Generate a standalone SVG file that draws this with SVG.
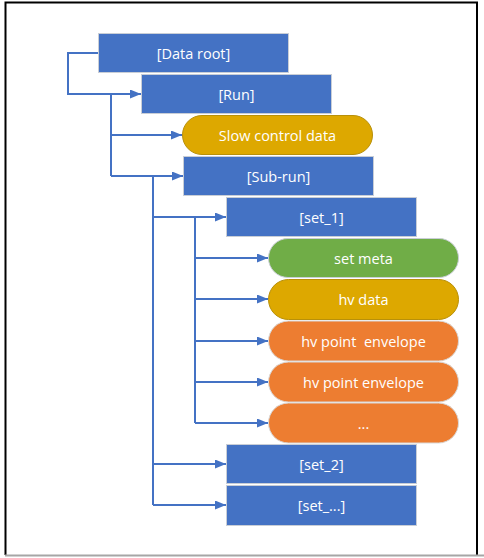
<svg xmlns="http://www.w3.org/2000/svg" width="484" height="558" viewBox="0 0 484 558">
  <defs>
    <marker id="arrow" markerWidth="11" markerHeight="9" refX="11" refY="4.5" orient="auto" markerUnits="userSpaceOnUse">
      <path d="M0,0 L11,4.5 L0,9 Z" fill="#4472C4"/>
    </marker>
    <style>
      .box { fill: #4472C4; stroke: #C9CED6; stroke-width: 1; }
      .gold { fill: #DDA800; stroke: #B8900A; stroke-width: 1; }
      .green { fill: #70AD47; stroke: #C9CED6; stroke-width: 1; }
      .orange { fill: #ED7D31; stroke: #D9D9D9; stroke-width: 1; }
      .lbl { fill: #FFFFFF; font-family: "Open Sans", "Liberation Sans", sans-serif; font-size: 14.5px; text-anchor: middle; dominant-baseline: central; }
      .wire { fill: none; stroke: #4472C4; stroke-width: 2; }
      .wire-a { fill: none; stroke: #4472C4; stroke-width: 2; marker-end: url(#arrow); }
    </style>
  </defs>

  <rect width="484" height="558" fill="#FFFFFF"/>
  <!-- frame -->
  <path d="M5.5,555 L5.5,2.5 L477,2.5 L477,555" fill="none" stroke="#000000" stroke-width="2"/>
  <line x1="5" y1="555.5" x2="484" y2="555.5" stroke="#A6A6A6" stroke-width="2"/>

  <g id="connectors">
    <!-- Data root -> Run -->
    <path class="wire-a" d="M98,53 H68 V94 H141"/>
    <!-- Run children -->
    <path class="wire" d="M111,94 V176"/>
    <path class="wire-a" d="M111,135 H182"/>
    <path class="wire-a" d="M111,176 H183"/>
    <!-- Sub-run children -->
    <path class="wire" d="M153,176 V505"/>
    <path class="wire-a" d="M153,217 H226"/>
    <path class="wire-a" d="M153,464 H226"/>
    <path class="wire-a" d="M153,505 H226"/>
    <!-- set_1 children -->
    <path class="wire" d="M195,217 V423"/>
    <path class="wire-a" d="M195,258 H268"/>
    <path class="wire-a" d="M195,299 H268"/>
    <path class="wire-a" d="M195,341 H268"/>
    <path class="wire-a" d="M195,382 H268"/>
    <path class="wire-a" d="M195,423 H268"/>
  </g>

  <g id="data-root">
    <rect class="box" x="98.5" y="33.5" width="190" height="39"/>
    <text class="lbl" x="193.5" y="53">[Data root]</text>
  </g>
  <g id="run">
    <rect class="box" x="141.5" y="74.5" width="190" height="39"/>
    <text class="lbl" x="236.5" y="94">[Run]</text>
  </g>
  <g id="slow-control">
    <rect class="gold" x="182.5" y="115.5" width="190" height="39" rx="19.5"/>
    <text class="lbl" x="277.5" y="135">Slow control data</text>
  </g>
  <g id="sub-run">
    <rect class="box" x="183.5" y="156.5" width="190" height="39"/>
    <text class="lbl" x="278.5" y="176">[Sub-run]</text>
  </g>
  <g id="set-1">
    <rect class="box" x="226.5" y="197.5" width="190" height="39"/>
    <text class="lbl" x="321.5" y="217">[set_1]</text>
  </g>
  <g id="set-meta">
    <rect class="green" x="268.5" y="238.5" width="190" height="39" rx="19.5"/>
    <text class="lbl" x="363.5" y="258">set meta</text>
  </g>
  <g id="hv-data">
    <rect class="gold" x="268.5" y="279.5" width="190" height="40" rx="20"/>
    <text class="lbl" x="363.5" y="299.5">hv data</text>
  </g>
  <g id="hv-envelope-1">
    <rect class="orange" x="268.5" y="321" width="190" height="40" rx="20"/>
    <text class="lbl" x="363.5" y="341" xml:space="preserve">hv point  envelope</text>
  </g>
  <g id="hv-envelope-2">
    <rect class="orange" x="268.5" y="362" width="190" height="40" rx="20"/>
    <text class="lbl" x="363.5" y="382">hv point envelope</text>
  </g>
  <g id="hv-more">
    <rect class="orange" x="268.5" y="403" width="190" height="40" rx="20"/>
    <text class="lbl" x="363.5" y="423">...</text>
  </g>
  <g id="set-2">
    <rect class="box" x="226.5" y="444.5" width="190" height="39"/>
    <text class="lbl" x="321.5" y="464">[set_2]</text>
  </g>
  <g id="set-more">
    <rect class="box" x="226.5" y="485.5" width="190" height="40"/>
    <text class="lbl" x="321.5" y="505.5">[set_...]</text>
  </g>
</svg>
